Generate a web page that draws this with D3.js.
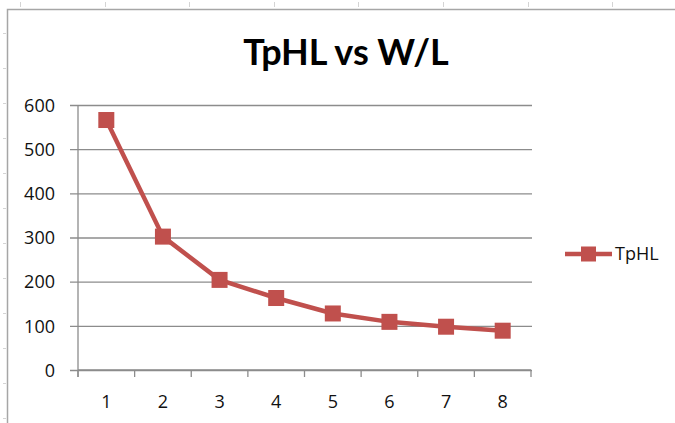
<!DOCTYPE html>
<html>
<head>
<meta charset="utf-8">
<script src="https://cdn.jsdelivr.net/npm/d3@7"></script>
<style>
  html, body { margin: 0; padding: 0; background: #fff; }
  svg { display: block; }
</style>
</head>
<body>
<svg id="chart" width="675" height="423"></svg>
<script>
// W/L ratio categories and propagation delay (TpHL) for each
const categories = ["1", "2", "3", "4", "5", "6", "7", "8"];
const tphl = [566, 302, 204, 163, 128, 109, 98, 89];
const yTicks = [0, 100, 200, 300, 400, 500, 600];
const seriesName = "TpHL";
const titleText = "TpHL vs W/L";

const svg = d3.select("#chart");
const W = 675, H = 423;
const red = "#C0504D";
const grid = "#8c8c8c";
const labelFont = "'Open Sans', 'DejaVu Sans', sans-serif";

// faint sheet marks outside the chart frame
svg.append("g").selectAll("line")
  .data(d3.range(20, W, 84.6))
  .join("line")
  .attr("x1", d => Math.round(d) + 0.5).attr("x2", d => Math.round(d) + 0.5)
  .attr("y1", 2).attr("y2", 7)
  .attr("stroke", "#d4d4d4");
svg.append("g").selectAll("line")
  .data(d3.range(33, H, 35))
  .join("line")
  .attr("x1", 3).attr("x2", 6)
  .attr("y1", d => Math.round(d) + 0.5).attr("y2", d => Math.round(d) + 0.5)
  .attr("stroke", "#d4d4d4");

// chart frame
svg.append("path")
  .attr("d", `M7.5,${H} V9.5 H${W}`)
  .attr("fill", "none")
  .attr("stroke", "#a6a6a6")
  .attr("stroke-width", 1.5);

// title
svg.append("text")
  .attr("x", 346).attr("y", 65)
  .attr("text-anchor", "middle")
  .attr("font-family", "Lato, 'Open Sans', sans-serif")
  .attr("font-weight", "bold")
  .attr("font-size", 36)
  .attr("fill", "#000")
  .text(titleText);

const plot = { left: 78, right: 531, top: 105, bottom: 370 };

const x = d3.scaleBand().domain(categories).range([plot.left, plot.right]);
const y = d3.scaleLinear().domain([0, 600]).range([plot.bottom, plot.top]);

// horizontal gridlines with left tick stubs
const yAxis = d3.axisLeft(y)
  .tickValues(yTicks)
  .tickSize(-(plot.right - plot.left + 1))
  .tickSizeOuter(0)
  .tickFormat(d3.format("d"));

const yg = svg.append("g")
  .attr("transform", `translate(${plot.left},0)`)
  .call(yAxis);
yg.select(".domain").remove();
yg.selectAll(".tick line")
  .attr("x1", -8)
  .attr("stroke", grid)
  .attr("stroke-width", 1.3);
yg.selectAll(".tick text")
  .attr("font-family", labelFont)
  .attr("font-size", 18)
  .attr("fill", "#111")
  .attr("dy", "0.35em")
  .attr("x", -23);

// vertical axis line
svg.append("line")
  .attr("x1", plot.left).attr("x2", plot.left)
  .attr("y1", plot.top).attr("y2", plot.bottom + 7)
  .attr("stroke", grid).attr("stroke-width", 1.3);

// category axis: tick marks at band boundaries, labels at band centres
const xg = svg.append("g").attr("transform", `translate(0,${plot.bottom})`);
xg.append("line")
  .attr("x1", plot.left).attr("x2", plot.right)
  .attr("stroke", grid).attr("stroke-width", 1.3);
const bounds = categories.map(c => x(c)).concat([x(categories[categories.length - 1]) + x.bandwidth()]);
xg.selectAll("line.tk")
  .data(bounds)
  .join("line")
  .attr("class", "tk")
  .attr("x1", d => d).attr("x2", d => d)
  .attr("y1", 0).attr("y2", 7)
  .attr("stroke", grid).attr("stroke-width", 1.3);
xg.selectAll("text")
  .data(categories)
  .join("text")
  .attr("x", d => x(d) + x.bandwidth() / 2)
  .attr("y", 38)
  .attr("text-anchor", "middle")
  .attr("font-family", labelFont)
  .attr("font-size", 18)
  .attr("fill", "#111")
  .text(d => d);

// series line
const cx = (d, i) => x(categories[i]) + x.bandwidth() / 2;
const line = d3.line()
  .x(cx)
  .y(d => y(d));

svg.append("path")
  .datum(tphl)
  .attr("d", line)
  .attr("fill", "none")
  .attr("stroke", red)
  .attr("stroke-width", 4.5)
  .attr("stroke-linejoin", "round");

// square markers
const ms = 16;
svg.append("g").selectAll("rect")
  .data(tphl)
  .join("rect")
  .attr("x", (d, i) => cx(d, i) - ms / 2)
  .attr("y", d => y(d) - ms / 2)
  .attr("width", ms).attr("height", ms)
  .attr("fill", red);

// legend
const lg = svg.append("g").attr("transform", "translate(565,254)");
lg.append("line")
  .attr("x1", 0).attr("x2", 47)
  .attr("stroke", red).attr("stroke-width", 4.5);
lg.append("rect")
  .attr("x", 16).attr("y", -7.5)
  .attr("width", 15).attr("height", 15)
  .attr("fill", red);
lg.append("text")
  .attr("x", 50).attr("y", 0)
  .attr("dy", "0.36em")
  .attr("font-family", labelFont)
  .attr("font-size", 18)
  .attr("fill", "#111")
  .text(seriesName);
</script>
</body>
</html>
